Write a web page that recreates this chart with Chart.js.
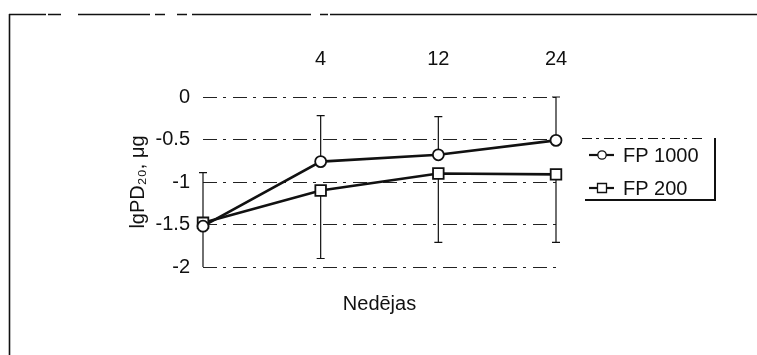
<!DOCTYPE html>
<html>
<head>
<meta charset="utf-8">
<script src="https://cdn.jsdelivr.net/npm/chart.js@4.4.1/dist/chart.umd.min.js"></script>
<style>
  html, body { margin: 0; padding: 0; background: #fff; }
  #wrap { width: 757px; height: 355px; }
</style>
</head>
<body>
<div id="wrap"><canvas id="c" width="757" height="355"></canvas></div>
<script>
// Weeks of treatment (first point is baseline, shown without a label)
const weekLabels = ['', '4', '12', '24'];
// Mean lgPD20 per group
const fp1000 = [-1.52, -0.76, -0.68, -0.51];
const fp200 = [-1.48, -1.10, -0.90, -0.91];
// Ends of the one-sided deviation bars
const fp1000Upper = [-0.89, -0.22, -0.23, 0.0];
const fp200Lower = [-2.08, -1.90, -1.71, -1.71];
// Value axis ticks
const yTicks = [0, -0.5, -1, -1.5, -2];

const FONT = '"Liberation Sans", Arial, sans-serif';
const INK = '#111';

// Outer frame, partly broken along the top edge
const framePlugin = {
  id: 'frame',
  beforeDraw(chart) {
    const ctx = chart.ctx;
    ctx.save();
    ctx.fillStyle = '#fff';
    ctx.fillRect(0, 0, chart.width, chart.height);
    ctx.strokeStyle = INK;
    ctx.lineWidth = 1.6;
    const topSegs = [[9, 46], [48, 61], [78, 150], [155, 165], [177, 187], [192, 311], [320, 328], [330, 757]];
    ctx.beginPath();
    topSegs.forEach(([a, b]) => { ctx.moveTo(a, 14.5); ctx.lineTo(b, 14.5); });
    ctx.moveTo(9.5, 14); ctx.lineTo(9.5, 355);
    ctx.stroke();
    ctx.restore();
  }
};

// One-sided deviation bars drawn under the markers
const errorBars = [
  { dataset: 0, ends: fp1000Upper },
  { dataset: 1, ends: fp200Lower }
];
const errorBarPlugin = {
  id: 'errorBars',
  beforeDatasetsDraw(chart) {
    const { ctx, chartArea, scales } = chart;
    ctx.save();
    ctx.beginPath();
    ctx.rect(chartArea.left - 10, chartArea.top - 3, chartArea.width + 20, chartArea.height + 3);
    ctx.clip();
    ctx.strokeStyle = INK;
    ctx.lineWidth = 1.2;
    errorBars.forEach(({ dataset, ends }) => {
      const data = chart.data.datasets[dataset].data;
      ends.forEach((end, i) => {
        if (end === null) return;
        const x = scales.x.getPixelForValue(i);
        const y0 = scales.y.getPixelForValue(data[i]);
        const y1 = scales.y.getPixelForValue(end);
        ctx.beginPath();
        ctx.moveTo(x, y0); ctx.lineTo(x, y1);
        ctx.moveTo(x - 4, y1); ctx.lineTo(x + 4, y1);
        ctx.stroke();
      });
    });
    ctx.restore();
  }
};

// Legend box at the right of the plot
const legendPlugin = {
  id: 'sideLegend',
  afterDraw(chart) {
    const ctx = chart.ctx;
    const box = { l: 585, r: 715, t: 138, b: 200 };
    ctx.save();
    ctx.strokeStyle = INK;
    ctx.lineWidth = 1;
    ctx.setLineDash([10, 4, 3, 5]);
    ctx.beginPath(); ctx.moveTo(box.l - 3, box.t + 0.5); ctx.lineTo(box.r - 12, box.t + 0.5); ctx.stroke();
    ctx.setLineDash([]);
    ctx.lineWidth = 2;
    ctx.beginPath();
    ctx.moveTo(box.r, box.t); ctx.lineTo(box.r, box.b); ctx.lineTo(box.l, box.b);
    ctx.stroke();
    const rows = [155, 188];
    chart.data.datasets.forEach((ds, i) => {
      const y = rows[i];
      ctx.lineWidth = 2.2;
      ctx.strokeStyle = INK;
      ctx.beginPath(); ctx.moveTo(589, y); ctx.lineTo(614, y); ctx.stroke();
      ctx.fillStyle = '#fff';
      ctx.lineWidth = 1.3;
      ctx.beginPath();
      if (ds.pointStyle === 'rect') {
        ctx.rect(597.5, y - 4.5, 9, 9);
      } else {
        ctx.arc(602, y, 4.2, 0, Math.PI * 2);
      }
      ctx.fill(); ctx.stroke();
      ctx.fillStyle = INK;
      ctx.font = '20px ' + FONT;
      ctx.textBaseline = 'middle';
      ctx.textAlign = 'left';
      ctx.fillText(ds.label, 623, y + 1);
    });
    ctx.restore();
  }
};

new Chart(document.getElementById('c'), {
  type: 'line',
  data: {
    labels: weekLabels,
    datasets: [
      {
        label: 'FP 1000',
        data: fp1000,
        borderColor: INK,
        borderWidth: 2.6,
        pointStyle: 'circle',
        pointRadius: 5.5,
        pointBackgroundColor: '#fff',
        pointBorderColor: INK,
        pointBorderWidth: 1.8,
        tension: 0,
        clip: false
      },
      {
        label: 'FP 200',
        data: fp200,
        borderColor: INK,
        borderWidth: 2.6,
        pointStyle: 'rect',
        pointRadius: 7.5,
        pointBackgroundColor: '#fff',
        pointBorderColor: INK,
        pointBorderWidth: 1.8,
        tension: 0,
        clip: false
      }
    ]
  },
  options: {
    responsive: false,
    animation: false,
    devicePixelRatio: 1,
    layout: { padding: { left: 122, top: 20, right: 201, bottom: 35 } },
    plugins: {
      legend: { display: false },
      tooltip: { enabled: false }
    },
    scales: {
      x: {
        type: 'category',
        position: 'top',
        offset: false,
        grid: { display: false },
        border: { display: false },
        ticks: { color: INK, font: { family: FONT, size: 20 }, padding: 18, maxRotation: 0 },
        afterFit(scale) { scale.height = 77; }
      },
      x2: {
        type: 'category',
        position: 'bottom',
        offset: false,
        grid: { display: false },
        border: { display: false },
        ticks: { display: false },
        title: { display: true, text: 'Nedējas', color: INK, font: { family: FONT, size: 20 } },
        afterFit(scale) { scale.height = 53; }
      },
      y: {
        min: -2,
        max: 0,
        afterBuildTicks(scale) { scale.ticks = yTicks.map(v => ({ value: v })); },
        grid: { color: '#222', lineWidth: 1, drawTicks: false },
        border: { display: false, dash: [14, 6, 3, 7] },
        ticks: {
          color: INK,
          font: { family: FONT, size: 20 },
          padding: 13,
          callback: v => String(v)
        },
        title: { display: true, text: 'lgPD₂₀, μg', color: INK, font: { family: FONT, size: 20 } },
        afterFit(scale) { scale.width = 81; }
      }
    }
  },
  plugins: [framePlugin, errorBarPlugin, legendPlugin]
});
</script>
</body>
</html>
